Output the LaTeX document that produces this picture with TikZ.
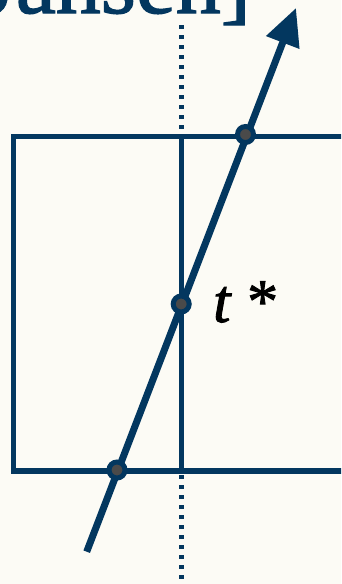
\documentclass[tikz,border=0pt]{standalone}
\usepackage{fontspec}
\setmainfont{Liberation Serif}
\newfontfamily\heavyserif[FakeBold=1.5]{Liberation Serif}
\usetikzlibrary{arrows.meta}
\definecolor{navy}{HTML}{03375F}
\definecolor{bgcol}{HTML}{FCFBF5}
\definecolor{dotgray}{HTML}{4A4A4A}
\tikzset{
  mark dot/.style={circle, draw=navy, line width=5pt, fill=dotgray, inner sep=0pt, minimum size=16pt},
  mainline/.style={navy, line width=7pt},
  guide/.style={navy, line width=4.5pt},
}
\begin{document}
\begin{tikzpicture}[x=1pt,y=-1pt]
\useasboundingbox (0,0) rectangle (341,584);
\clip (0,0) rectangle (341,584);
\fill[bgcol] (0,0) rectangle (341,584);
% title fragment
\node[anchor=base east, inner sep=0pt, text=navy, font=\heavyserif\fontsize{90}{96}\selectfont] (title) at (251,13) {Jansen]};
% box
\draw[navy, line width=5.5pt] (13.5,136.5) rectangle (380,471);
% vertical guide
\coordinate (vtop) at (181.5,25);
\coordinate (vbot) at (181.5,590);
\coordinate (vin1) at (181.5,136.5);
\coordinate (vin2) at (181.5,471);
\draw[guide, dash pattern=on 4pt off 6pt] (vtop) -- (vbot);
\draw[guide] (vin1) -- (vin2);
% main line
\coordinate (start) at (86.7,551.7);
\coordinate (tip) at (296,8);
\draw[mainline, -{Triangle[length=37pt,width=34pt]}] (start) -- (tip);
% dots
\node[mark dot] (p1) at (117,470) {};
\node[mark dot] (p2) at (181.2,304) {};
\node[mark dot] (p3) at (245.5,134.5) {};
% label
\node[anchor=base west, inner sep=0pt, font=\heavyserif\fontsize{62}{66}\selectfont] (lbl) at (213,322) {\textit{t} *};
\end{tikzpicture}
\end{document}
